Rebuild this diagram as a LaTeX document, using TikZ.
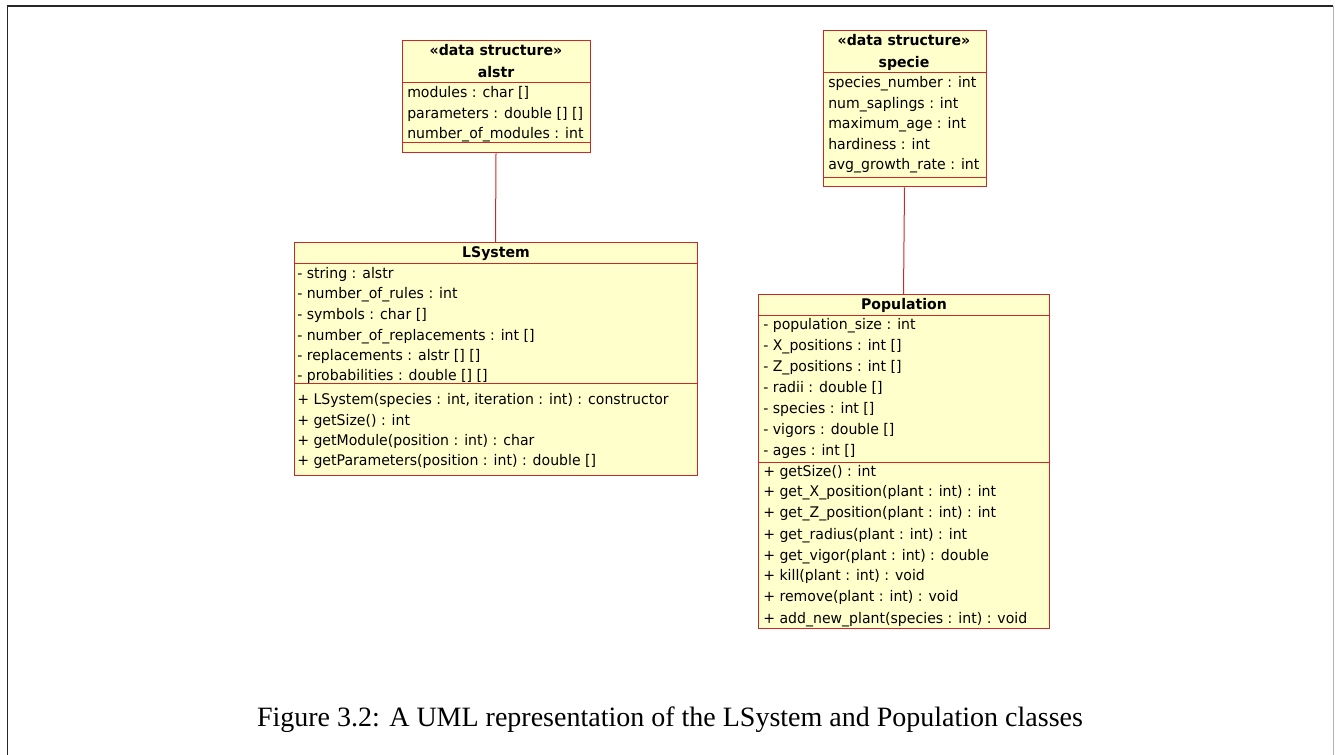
\documentclass[tikz,border=0pt]{standalone}
\usepackage{fontspec}
\setmainfont{DejaVu Sans}
\newfontfamily\umlfont{DejaVu Sans}[FakeStretch=0.96]
\newfontfamily\capfont{Liberation Serif}
\usetikzlibrary{fit}
\definecolor{umlred}{RGB}{204,40,40}
\definecolor{umlfill}{RGB}{255,255,204}
\begin{document}
\begin{tikzpicture}[x=0.75pt,y=-0.75pt,
  box/.style={draw=umlred, fill=umlfill, line width=0.75pt, inner sep=0pt},
  sepline/.style={draw=umlred, line width=0.75pt},
  link/.style={draw=umlred, line width=0.75pt},
  row/.style={anchor=west, inner sep=0pt, font=\umlfont\fontsize{11}{13}\selectfont, text height=8.2pt, text depth=2.4pt},
  head/.style={anchor=center, inner sep=0pt, font=\umlfont\bfseries\fontsize{11}{13}\selectfont, text height=8.2pt, text depth=2.4pt}]
\useasboundingbox (0,0) rectangle (1336,755);
\fill[white] (0,0) rectangle (1336,755);
% frame
\draw[black!85, line width=1.4pt] (7.5,755) -- (7.5,6) -- (1333,6);
\draw[black!30, line width=0.8pt] (1333.5,6) -- (1333.5,755);

% alstr
\node[box, fit={(402,41) (590,153)}] (alstr) {};
\draw[sepline] (402,83) -- (590,83);
\draw[sepline] (402,143) -- (590,143);
\node[head] (alstrS) at (496,52) {«data structure»};
\node[head] (alstrN) at (496,74) {alstr};
\node[row] (a1) at (407,94) {modules : char []};
\node[row] (a2) at (407,115) {parameters : double [] []};
\node[row] (a3) at (407,135) {number\_of\_modules : int};

% specie
\node[box, fit={(823,31) (986,187)}] (specie) {};
\draw[sepline] (823,73) -- (986,73);
\draw[sepline] (823,178) -- (986,178);
\node[head] (specS) at (904,42) {«data structure»};
\node[head] (specN) at (904,64) {specie};
\node[row] (s1) at (828,84) {species\_number : int};
\node[row] (s2) at (828,105) {num\_saplings : int};
\node[row] (s3) at (828,125) {maximum\_age : int};
\node[row] (s4) at (828,146) {hardiness : int};
\node[row] (s5) at (828,166) {avg\_growth\_rate : int};

% LSystem
\node[box, fit={(294,243) (697,476)}] (lsys) {};
\draw[sepline] (294,264) -- (697,264);
\draw[sepline] (294,384) -- (697,384);
\node[head] (lsysN) at (496,254) {LSystem};
\node[row] (l1) at (297,275) {- string : alstr};
\node[row] (l2) at (297,295) {- number\_of\_rules : int};
\node[row] (l3) at (297,316) {- symbols : char []};
\node[row] (l4) at (297,337) {- number\_of\_replacements : int []};
\node[row] (l5) at (297,357) {- replacements : alstr [] []};
\node[row] (l6) at (297,377) {- probabilities : double [] []};
\node[row] (l7) at (297,401) {+ LSystem(species : int, iteration : int) : constructor};
\node[row] (l8) at (297,422) {+ getSize() : int};
\node[row] (l9) at (297,442) {+ getModule(position : int) : char};
\node[row] (l10) at (297,462) {+ getParameters(position : int) : double []};

% Population
\node[box, fit={(758,295) (1049,628)}] (pop) {};
\draw[sepline] (758,316) -- (1049,316);
\draw[sepline] (758,463) -- (1049,463);
\node[head] (popN) at (904,306) {Population};
\node[row] (p1) at (763,326) {- population\_size : int};
\node[row] (p2) at (763,347) {- X\_positions : int []};
\node[row] (p3) at (763,368) {- Z\_positions : int []};
\node[row] (p4) at (763,389) {- radii : double []};
\node[row] (p5) at (763,410) {- species : int []};
\node[row] (p6) at (763,431) {- vigors : double []};
\node[row] (p7) at (763,452) {- ages : int []};
\node[row] (p8) at (763,473) {+ getSize() : int};
\node[row] (p9) at (763,493) {+ get\_X\_position(plant : int) : int};
\node[row] (p10) at (763,514) {+ get\_Z\_position(plant : int) : int};
\node[row] (p11) at (763,536) {+ get\_radius(plant : int) : int};
\node[row] (p12) at (763,557) {+ get\_vigor(plant : int) : double};
\node[row] (p13) at (763,577) {+ kill(plant : int) : void};
\node[row] (p14) at (763,598) {+ remove(plant : int) : void};
\node[row] (p15) at (763,620) {+ add\_new\_plant(species : int) : void};

% connectors
\draw[link] (alstr.south) -- (lsys.north);
\draw[link] (specie.south) -- (pop.north);

% caption
\node[inner sep=0pt, font=\capfont\fontsize{21}{24}\selectfont] (cap) at (670,720) {Figure 3.2: A UML representation of the LSystem and Population classes};
\end{tikzpicture}
\end{document}
